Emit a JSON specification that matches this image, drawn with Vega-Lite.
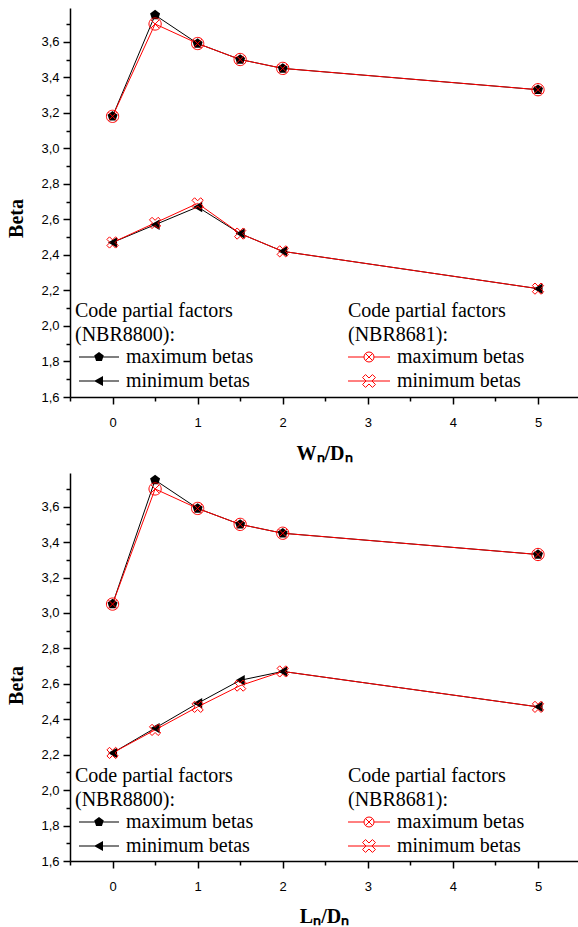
{
  "$schema": "https://vega.github.io/schema/vega-lite/v6.json",
  "padding": {"left": 6, "top": 8, "right": 0, "bottom": 0},
  "background": "white",
  "spacing": 10,
  "datasets": {
    "betas": [
      {"panel": "W", "x": 0, "beta": 3.18, "code": "NBR8800", "kind": "maximum betas"},
      {"panel": "W", "x": 0.5, "beta": 3.75, "code": "NBR8800", "kind": "maximum betas"},
      {"panel": "W", "x": 1, "beta": 3.59, "code": "NBR8800", "kind": "maximum betas"},
      {"panel": "W", "x": 1.5, "beta": 3.5, "code": "NBR8800", "kind": "maximum betas"},
      {"panel": "W", "x": 2, "beta": 3.45, "code": "NBR8800", "kind": "maximum betas"},
      {"panel": "W", "x": 5, "beta": 3.33, "code": "NBR8800", "kind": "maximum betas"},
      {"panel": "W", "x": 0, "beta": 2.47, "code": "NBR8800", "kind": "minimum betas"},
      {"panel": "W", "x": 0.5, "beta": 2.57, "code": "NBR8800", "kind": "minimum betas"},
      {"panel": "W", "x": 1, "beta": 2.67, "code": "NBR8800", "kind": "minimum betas"},
      {"panel": "W", "x": 1.5, "beta": 2.52, "code": "NBR8800", "kind": "minimum betas"},
      {"panel": "W", "x": 2, "beta": 2.42, "code": "NBR8800", "kind": "minimum betas"},
      {"panel": "W", "x": 5, "beta": 2.21, "code": "NBR8800", "kind": "minimum betas"},
      {"panel": "W", "x": 0, "beta": 3.18, "code": "NBR8681", "kind": "maximum betas"},
      {"panel": "W", "x": 0.5, "beta": 3.7, "code": "NBR8681", "kind": "maximum betas"},
      {"panel": "W", "x": 1, "beta": 3.59, "code": "NBR8681", "kind": "maximum betas"},
      {"panel": "W", "x": 1.5, "beta": 3.5, "code": "NBR8681", "kind": "maximum betas"},
      {"panel": "W", "x": 2, "beta": 3.45, "code": "NBR8681", "kind": "maximum betas"},
      {"panel": "W", "x": 5, "beta": 3.33, "code": "NBR8681", "kind": "maximum betas"},
      {"panel": "W", "x": 0, "beta": 2.47, "code": "NBR8681", "kind": "minimum betas"},
      {"panel": "W", "x": 0.5, "beta": 2.58, "code": "NBR8681", "kind": "minimum betas"},
      {"panel": "W", "x": 1, "beta": 2.69, "code": "NBR8681", "kind": "minimum betas"},
      {"panel": "W", "x": 1.5, "beta": 2.52, "code": "NBR8681", "kind": "minimum betas"},
      {"panel": "W", "x": 2, "beta": 2.42, "code": "NBR8681", "kind": "minimum betas"},
      {"panel": "W", "x": 5, "beta": 2.21, "code": "NBR8681", "kind": "minimum betas"},
      {"panel": "L", "x": 0, "beta": 3.05, "code": "NBR8800", "kind": "maximum betas"},
      {"panel": "L", "x": 0.5, "beta": 3.75, "code": "NBR8800", "kind": "maximum betas"},
      {"panel": "L", "x": 1, "beta": 3.59, "code": "NBR8800", "kind": "maximum betas"},
      {"panel": "L", "x": 1.5, "beta": 3.5, "code": "NBR8800", "kind": "maximum betas"},
      {"panel": "L", "x": 2, "beta": 3.45, "code": "NBR8800", "kind": "maximum betas"},
      {"panel": "L", "x": 5, "beta": 3.33, "code": "NBR8800", "kind": "maximum betas"},
      {"panel": "L", "x": 0, "beta": 2.21, "code": "NBR8800", "kind": "minimum betas"},
      {"panel": "L", "x": 0.5, "beta": 2.35, "code": "NBR8800", "kind": "minimum betas"},
      {"panel": "L", "x": 1, "beta": 2.49, "code": "NBR8800", "kind": "minimum betas"},
      {"panel": "L", "x": 1.5, "beta": 2.62, "code": "NBR8800", "kind": "minimum betas"},
      {"panel": "L", "x": 2, "beta": 2.67, "code": "NBR8800", "kind": "minimum betas"},
      {"panel": "L", "x": 5, "beta": 2.47, "code": "NBR8800", "kind": "minimum betas"},
      {"panel": "L", "x": 0, "beta": 3.05, "code": "NBR8681", "kind": "maximum betas"},
      {"panel": "L", "x": 0.5, "beta": 3.7, "code": "NBR8681", "kind": "maximum betas"},
      {"panel": "L", "x": 1, "beta": 3.59, "code": "NBR8681", "kind": "maximum betas"},
      {"panel": "L", "x": 1.5, "beta": 3.5, "code": "NBR8681", "kind": "maximum betas"},
      {"panel": "L", "x": 2, "beta": 3.45, "code": "NBR8681", "kind": "maximum betas"},
      {"panel": "L", "x": 5, "beta": 3.33, "code": "NBR8681", "kind": "maximum betas"},
      {"panel": "L", "x": 0, "beta": 2.21, "code": "NBR8681", "kind": "minimum betas"},
      {"panel": "L", "x": 0.5, "beta": 2.34, "code": "NBR8681", "kind": "minimum betas"},
      {"panel": "L", "x": 1, "beta": 2.47, "code": "NBR8681", "kind": "minimum betas"},
      {"panel": "L", "x": 1.5, "beta": 2.59, "code": "NBR8681", "kind": "minimum betas"},
      {"panel": "L", "x": 2, "beta": 2.67, "code": "NBR8681", "kind": "minimum betas"},
      {"panel": "L", "x": 5, "beta": 2.47, "code": "NBR8681", "kind": "minimum betas"}
    ]
  },
  "resolve": {"scale": {"shape": "independent"}, "legend": {"shape": "independent"}},
  "vconcat": [
    {
      "width": 508,
      "height": 389,
      "data": {"name": "betas"},
      "transform": [{"filter": "datum.panel == 'W'"}],
      "encoding": {
        "x": {"field": "x", "type": "quantitative", "scale": {"domain": [-0.5, 5.47], "nice": false, "zero": false},
          "axis": {"title": "Wₙ/Dₙ", "values": [-0.5, 0, 0.5, 1, 1.5, 2, 2.5, 3, 3.5, 4, 4.5, 5], "labelExpr": "datum.value % 1 == 0 ? format(datum.value, 'd') : ''", "tickSize": {"condition": {"test": "datum.value % 1 == 0", "value": 7}, "value": 4}, "labelPadding": 12, "titlePadding": 14, "labelFlush": false}},
        "y": {"field": "beta", "type": "quantitative", "scale": {"domain": [1.6, 3.79], "nice": false, "zero": false},
          "axis": {"title": "Beta", "titleY": 210, "values": [1.6, 1.7, 1.8, 1.9, 2.0, 2.1, 2.2, 2.3, 2.4, 2.5, 2.6, 2.7, 2.8, 2.9, 3.0, 3.1, 3.2, 3.3, 3.4, 3.5, 3.6, 3.7], "labelExpr": "round(datum.value * 10) % 2 == 0 ? replace(format(datum.value, '.1f'), '.', ',') : ''", "tickSize": {"condition": {"test": "round(datum.value * 10) % 2 == 0", "value": 7}, "value": 4}, "labelPadding": 4, "titlePadding": 14, "labelFlush": false}}
      },
      "layer": [
        {"transform": [{"filter": "datum.code == 'NBR8800'"}], "mark": {"type": "line", "color": "black", "strokeWidth": 1}, "encoding": {"detail": {"field": "kind"}}},
        {"transform": [{"filter": "datum.code == 'NBR8681'"}], "mark": {"type": "line", "color": "#ff0000", "strokeWidth": 1}, "encoding": {"detail": {"field": "kind"}}},
        {"transform": [{"filter": "datum.code == 'NBR8800'"}], "mark": {"type": "point", "filled": true, "color": "black", "opacity": 1, "size": 110, "strokeWidth": 1},
          "encoding": {"shape": {"field": "kind", "type": "nominal", "legend": null, "scale": {"domain": ["maximum betas", "minimum betas"], "range": ["M0,-1L0.951,-0.309L0.588,0.809L-0.588,0.809L-0.951,-0.309Z", "triangle-left"]}}}},
        {"transform": [{"filter": "datum.code == 'NBR8681'"}], "mark": {"type": "point", "filled": false, "color": "#ff0000", "opacity": 1, "size": 150, "strokeWidth": 1},
          "encoding": {"shape": {"field": "kind", "type": "nominal", "legend": null, "scale": {"domain": ["maximum betas", "minimum betas"], "range": ["M1,0A1,1,0,1,1,-1,0A1,1,0,1,1,1,0ZM-0.7,-0.7L0.7,0.7M-0.7,0.7L0.7,-0.7", "M-0.495,-0.919L0,-0.424L0.495,-0.919L0.919,-0.495L0.424,0L0.919,0.495L0.495,0.919L0,0.424L-0.495,0.919L-0.919,0.495L-0.424,0L-0.919,-0.495Z"]}}}},
        {"transform": [{"filter": "datum.code == 'NBR8800'"}], "mark": {"type": "point", "filled": true, "color": "black", "opacity": 0, "size": 100, "strokeWidth": 1},
          "encoding": {"shape": {"field": "kind", "type": "nominal", "scale": {"domain": ["maximum betas", "minimum betas"], "range": ["M-4,-0.1H4V0.1H-4ZM0,-1L0.951,-0.309L0.588,0.809L-0.588,0.809L-0.951,-0.309Z", "M-4,-0.1H4V0.1H-4ZM-1,0L0.8,-1L0.8,1Z"]},
            "legend": {"orient": "none", "legendX": 5, "legendY": 293, "padding": 0, "title": ["Code partial factors", "(NBR8800):"], "titleFont": "Liberation Serif", "titleFontSize": 20, "titleFontWeight": "normal", "titleColor": "black", "titleLineHeight": 24, "titlePadding": 2, "labelFont": "Liberation Serif", "labelFontSize": 20, "labelColor": "black", "labelOffset": 17, "symbolSize": 100, "symbolOffset": 14, "symbolStrokeWidth": 0, "symbolOpacity": 1, "symbolFillColor": "black", "symbolStrokeColor": "black", "rowPadding": 4}}}},
        {"transform": [{"filter": "datum.code == 'NBR8681'"}], "mark": {"type": "point", "filled": false, "color": "#ff0000", "opacity": 0, "size": 100, "strokeWidth": 1},
          "encoding": {"shape": {"field": "kind", "type": "nominal", "scale": {"domain": ["maximum betas", "minimum betas"], "range": ["M-4.2,0H-1M1,0H4.2M1,0A1,1,0,1,1,-1,0A1,1,0,1,1,1,0ZM-0.7,-0.7L0.7,0.7M-0.7,0.7L0.7,-0.7", "M-4.2,0H4.2M-0.693,-1.287L0,-0.594L0.693,-1.287L1.287,-0.693L0.594,0L1.287,0.693L0.693,1.287L0,0.594L-0.693,1.287L-1.287,0.693L-0.594,0L-1.287,-0.693Z"]},
            "legend": {"orient": "none", "legendX": 278, "legendY": 293, "padding": 0, "title": ["Code partial factors", "(NBR8681):"], "titleFont": "Liberation Serif", "titleFontSize": 20, "titleFontWeight": "normal", "titleColor": "black", "titleLineHeight": 24, "titlePadding": 2, "labelFont": "Liberation Serif", "labelFontSize": 20, "labelColor": "black", "labelOffset": 18, "symbolSize": 100, "symbolOffset": 11, "symbolStrokeWidth": 1, "symbolOpacity": 1, "symbolFillColor": "transparent", "symbolStrokeColor": "#ff0000", "rowPadding": 4}}}}
      ],
      "resolve": {"scale": {"shape": "independent"}, "legend": {"shape": "independent"}}
    },
    {
      "width": 508,
      "height": 388,
      "data": {"name": "betas"},
      "transform": [{"filter": "datum.panel == 'L'"}],
      "encoding": {
        "x": {"field": "x", "type": "quantitative", "scale": {"domain": [-0.5, 5.47], "nice": false, "zero": false},
          "axis": {"title": "Lₙ/Dₙ", "values": [-0.5, 0, 0.5, 1, 1.5, 2, 2.5, 3, 3.5, 4, 4.5, 5], "labelExpr": "datum.value % 1 == 0 ? format(datum.value, 'd') : ''", "tickSize": {"condition": {"test": "datum.value % 1 == 0", "value": 7}, "value": 4}, "labelPadding": 12, "titlePadding": 13, "labelFlush": false}},
        "y": {"field": "beta", "type": "quantitative", "scale": {"domain": [1.6, 3.79], "nice": false, "zero": false},
          "axis": {"title": "Beta", "titleY": 212, "values": [1.6, 1.7, 1.8, 1.9, 2.0, 2.1, 2.2, 2.3, 2.4, 2.5, 2.6, 2.7, 2.8, 2.9, 3.0, 3.1, 3.2, 3.3, 3.4, 3.5, 3.6, 3.7], "labelExpr": "round(datum.value * 10) % 2 == 0 ? replace(format(datum.value, '.1f'), '.', ',') : ''", "tickSize": {"condition": {"test": "round(datum.value * 10) % 2 == 0", "value": 7}, "value": 4}, "labelPadding": 4, "titlePadding": 14, "labelFlush": false}}
      },
      "layer": [
        {"transform": [{"filter": "datum.code == 'NBR8800'"}], "mark": {"type": "line", "color": "black", "strokeWidth": 1}, "encoding": {"detail": {"field": "kind"}}},
        {"transform": [{"filter": "datum.code == 'NBR8681'"}], "mark": {"type": "line", "color": "#ff0000", "strokeWidth": 1}, "encoding": {"detail": {"field": "kind"}}},
        {"transform": [{"filter": "datum.code == 'NBR8800'"}], "mark": {"type": "point", "filled": true, "color": "black", "opacity": 1, "size": 110, "strokeWidth": 1},
          "encoding": {"shape": {"field": "kind", "type": "nominal", "legend": null, "scale": {"domain": ["maximum betas", "minimum betas"], "range": ["M0,-1L0.951,-0.309L0.588,0.809L-0.588,0.809L-0.951,-0.309Z", "triangle-left"]}}}},
        {"transform": [{"filter": "datum.code == 'NBR8681'"}], "mark": {"type": "point", "filled": false, "color": "#ff0000", "opacity": 1, "size": 150, "strokeWidth": 1},
          "encoding": {"shape": {"field": "kind", "type": "nominal", "legend": null, "scale": {"domain": ["maximum betas", "minimum betas"], "range": ["M1,0A1,1,0,1,1,-1,0A1,1,0,1,1,1,0ZM-0.7,-0.7L0.7,0.7M-0.7,0.7L0.7,-0.7", "M-0.495,-0.919L0,-0.424L0.495,-0.919L0.919,-0.495L0.424,0L0.919,0.495L0.495,0.919L0,0.424L-0.495,0.919L-0.919,0.495L-0.424,0L-0.919,-0.495Z"]}}}},
        {"transform": [{"filter": "datum.code == 'NBR8800'"}], "mark": {"type": "point", "filled": true, "color": "black", "opacity": 0, "size": 100, "strokeWidth": 1},
          "encoding": {"shape": {"field": "kind", "type": "nominal", "scale": {"domain": ["maximum betas", "minimum betas"], "range": ["M-4,-0.1H4V0.1H-4ZM0,-1L0.951,-0.309L0.588,0.809L-0.588,0.809L-0.951,-0.309Z", "M-4,-0.1H4V0.1H-4ZM-1,0L0.8,-1L0.8,1Z"]},
            "legend": {"orient": "none", "legendX": 5, "legendY": 293, "padding": 0, "title": ["Code partial factors", "(NBR8800):"], "titleFont": "Liberation Serif", "titleFontSize": 20, "titleFontWeight": "normal", "titleColor": "black", "titleLineHeight": 24, "titlePadding": 2, "labelFont": "Liberation Serif", "labelFontSize": 20, "labelColor": "black", "labelOffset": 17, "symbolSize": 100, "symbolOffset": 14, "symbolStrokeWidth": 0, "symbolOpacity": 1, "symbolFillColor": "black", "symbolStrokeColor": "black", "rowPadding": 4}}}},
        {"transform": [{"filter": "datum.code == 'NBR8681'"}], "mark": {"type": "point", "filled": false, "color": "#ff0000", "opacity": 0, "size": 100, "strokeWidth": 1},
          "encoding": {"shape": {"field": "kind", "type": "nominal", "scale": {"domain": ["maximum betas", "minimum betas"], "range": ["M-4.2,0H-1M1,0H4.2M1,0A1,1,0,1,1,-1,0A1,1,0,1,1,1,0ZM-0.7,-0.7L0.7,0.7M-0.7,0.7L0.7,-0.7", "M-4.2,0H4.2M-0.693,-1.287L0,-0.594L0.693,-1.287L1.287,-0.693L0.594,0L1.287,0.693L0.693,1.287L0,0.594L-0.693,1.287L-1.287,0.693L-0.594,0L-1.287,-0.693Z"]},
            "legend": {"orient": "none", "legendX": 278, "legendY": 293, "padding": 0, "title": ["Code partial factors", "(NBR8681):"], "titleFont": "Liberation Serif", "titleFontSize": 20, "titleFontWeight": "normal", "titleColor": "black", "titleLineHeight": 24, "titlePadding": 2, "labelFont": "Liberation Serif", "labelFontSize": 20, "labelColor": "black", "labelOffset": 18, "symbolSize": 100, "symbolOffset": 11, "symbolStrokeWidth": 1, "symbolOpacity": 1, "symbolFillColor": "transparent", "symbolStrokeColor": "#ff0000", "rowPadding": 4}}}}
      ],
      "resolve": {"scale": {"shape": "independent"}, "legend": {"shape": "independent"}}
    }
  ],
  "config": {
    "view": {"stroke": null},
    "axis": {"grid": false, "domainColor": "black", "domainWidth": 1.5, "tickColor": "black", "tickWidth": 1.5, "labelColor": "black", "labelFont": "Liberation Sans", "labelFontSize": 13, "titleFont": "Liberation Serif", "titleFontSize": 20, "titleFontWeight": "bold", "titleColor": "black"}
  }
}
